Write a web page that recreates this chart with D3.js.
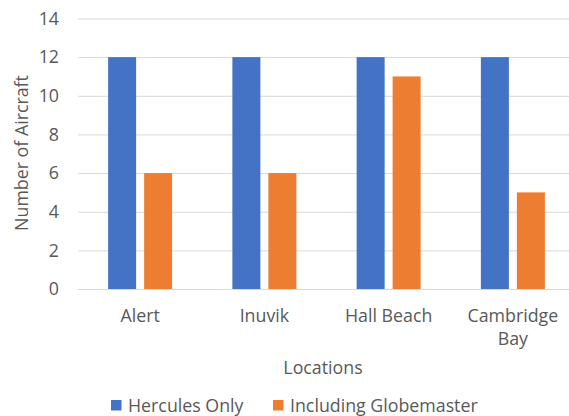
<!DOCTYPE html>
<html><head><meta charset="utf-8">
<script src="https://cdn.jsdelivr.net/npm/d3@7"></script>
<style>body{margin:0;background:#fff}text{font-family:"Open Sans",sans-serif;fill:#595959}</style>
</head><body><svg id="c" width="569" height="416"></svg>
<script>
const categories = ["Alert", "Inuvik", "Hall Beach", "Cambridge Bay"];
const seriesNames = ["Hercules Only", "Including Globemaster"];
const herculesOnly = [12, 12, 12, 12];
const includingGlobemaster = [6, 6, 11, 5];
const yTicks = [0, 2, 4, 6, 8, 10, 12, 14];
const colors = ["#4472C4", "#ED7D31"];

const FS = "17.8px";
const svg = d3.select("#c");
const mLeft = 78, mRight = 575, mTop = 18.5, mBottom = 289;
const x = d3.scaleBand().domain(categories).range([mLeft, mRight]).paddingInner(0).paddingOuter(0);
const y = d3.scaleLinear().domain([0, 14]).range([mBottom, mTop]);
const xs = d3.scaleBand().domain(seriesNames).range([0, x.bandwidth()]).paddingInner(0.222).paddingOuter(0.837);

// gridlines
const yAxis = d3.axisLeft(y).tickValues(yTicks).tickSize(-(mRight - mLeft)).tickPadding(19);
const ga = svg.append("g").attr("transform", `translate(${mLeft},0)`).call(yAxis);
ga.select(".domain").remove();
ga.selectAll("line").attr("stroke", "#d9d9d9").attr("stroke-width", 1);
ga.selectAll("text").style("font-size", FS).attr("fill", "#595959");

const data = categories.map((c, i) => ({c, vals: [herculesOnly[i], includingGlobemaster[i]]}));
const groups = svg.append("g").selectAll("g").data(data).join("g")
  .attr("transform", d => `translate(${x(d.c)},0)`);
groups.selectAll("rect").data(d => d.vals.map((v, j) => ({v, s: seriesNames[j], j})))
  .join("rect")
  .attr("x", d => xs(d.s)).attr("width", xs.bandwidth())
  .attr("y", d => y(d.v)).attr("height", d => y(0) - y(d.v))
  .attr("fill", d => colors[d.j]);

// x axis labels
const xAxis = d3.axisBottom(x).tickSize(0).tickPadding(20);
const gx = svg.append("g").attr("transform", `translate(0,${mBottom})`).call(xAxis);
gx.select(".domain").remove();
gx.selectAll(".tick text").style("font-size", FS).attr("fill", "#595959").each(function(d) {
  const t = d3.select(this);
  if (d === "Cambridge Bay") {
    t.text(null);
    t.append("tspan").attr("x", 0).attr("dy", "0.71em").text("Cambridge");
    t.append("tspan").attr("x", 0).attr("dy", "1.3em").text("Bay");
    t.attr("dy", null);
  }
});

svg.append("text").attr("x", 323).attr("y", 374).attr("text-anchor", "middle")
  .style("font-size", FS).text("Locations");
svg.append("text").attr("transform", "translate(28,153) rotate(-90)").attr("text-anchor", "middle")
  .style("font-size", FS).text("Number of Aircraft");

// legend
const legX = [111, 273];
seriesNames.forEach((s, i) => {
  svg.append("rect").attr("x", legX[i]).attr("y", 400).attr("width", 10.5).attr("height", 10.5).attr("fill", colors[i]);
  svg.append("text").attr("x", legX[i] + 17).attr("y", 411.5).style("font-size", FS).text(s);
});
</script></body></html>
